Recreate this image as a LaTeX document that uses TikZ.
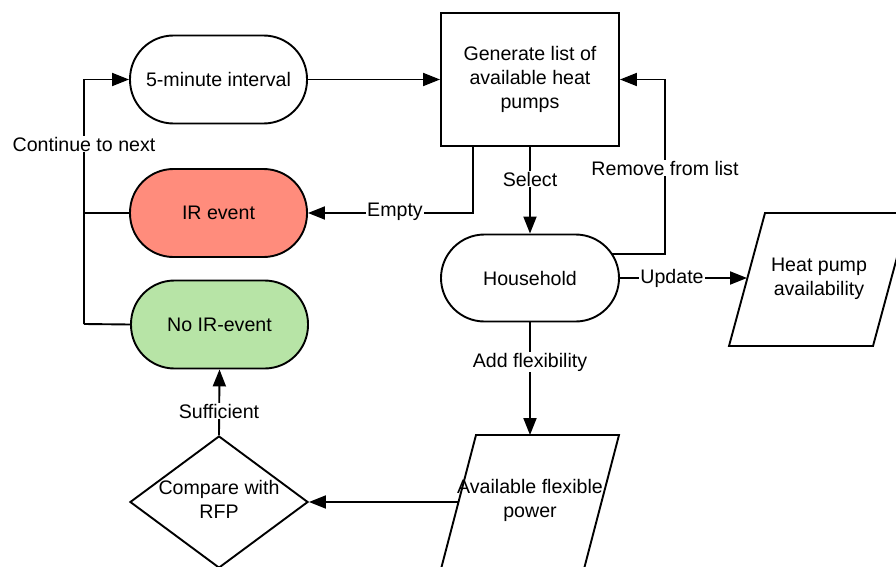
\documentclass[tikz,border=0pt]{standalone}
\usepackage{fontspec}
\setmainfont{Liberation Sans}
\usetikzlibrary{arrows.meta,shapes.geometric}
\definecolor{irred}{HTML}{FF8C7C}
\definecolor{irgreen}{HTML}{B7E4A6}
\begin{document}
\begin{tikzpicture}[x=1pt,y=-1pt,
  font=\fontsize{19.6}{24}\selectfont,
  line width=1.9pt,
  arr/.style={-{Triangle[length=17pt,width=13pt]}},
  stadium/.style={draw, rounded corners=43.5pt, minimum width=177pt, minimum height=88pt, inner sep=0pt, align=center},
  procbox/.style={draw, minimum width=178pt, minimum height=133pt, inner sep=0pt, align=center},
  lbl/.style={fill=white, inner sep=1pt},
  txt/.style={align=center, inner sep=0pt}]
\useasboundingbox (0,0) rectangle (896,567);
\clip (0,0) rectangle (896,567);

% nodes
\node[stadium] (five) at (218.5,79.5) {5-minute interval};
\node[procbox] (gen) at (530,79.5) {Generate list of\\available heat\\pumps};
\node[stadium, fill=irred] (ir) at (218.5,213) {IR event};
\node[stadium, fill=irgreen] (noir) at (219.5,324.5) {No IR-event};
\node[stadium, minimum width=178pt, minimum height=87pt] (hh) at (530,278) {Household};
\node[draw, diamond, minimum width=178pt, minimum height=132pt, inner sep=0pt] (cmp) at (219,502) {};
\node[txt] (cmptxt) at (219,499) {Compare with\\RFP};

% parallelograms
\draw (765,213) -- (909,213) -- (873,346) -- (729,346) -- cycle;
\node[txt] (hpa) at (819,279) {Heat pump\\availability};
\coordinate (hpaL) at (747,278);
\draw (476,435) -- (619,435) -- (584,569) -- (441,569) -- cycle;
\node[txt] (afp) at (530,500) {Available flexible\\power};
\coordinate (afpT) at (530,435);
\coordinate (afpL) at (459,502);

% helper coordinates
\coordinate (c1) at (84,324);
\coordinate (c2) at (84,213);
\coordinate (e1) at (473,146);
\coordinate (rm) at (612,254);
\coordinate (rmc) at (665,79.5);

% connectors
\draw[arr] (c1) |- (five.west);
\draw (c2) -- (ir.west);
\draw (c1) -- (noir.west);
\node[lbl] (lcont) at (84,144) {Continue to next};

\draw[arr] (five.east) -- (gen.west);

\draw[arr] (e1) |- (ir.east);
\node[lbl] (lempty) at (395,212) {Empty};

\draw[arr] (gen.south) -- (hh.north);
\node[lbl] (lsel) at (530,179) {Select};

\draw[arr] (rm) -| (rmc) -- (gen.east);
\node[lbl] (lrem) at (665,168) {Remove from list};

\draw[arr] (hh.east) -- (hpaL);
\node[lbl] (lupd) at (672,278) {Update};

\draw[arr] (hh.south) -- (afpT);
\node[lbl] (ladd) at (530,362) {Add flexibility};

\draw[arr] (afpL) -- (cmp.east);

\draw[arr] (cmp.north) -- (noir.south);
\node[lbl] (lsuf) at (219,411) {Sufficient};
\end{tikzpicture}
\end{document}
